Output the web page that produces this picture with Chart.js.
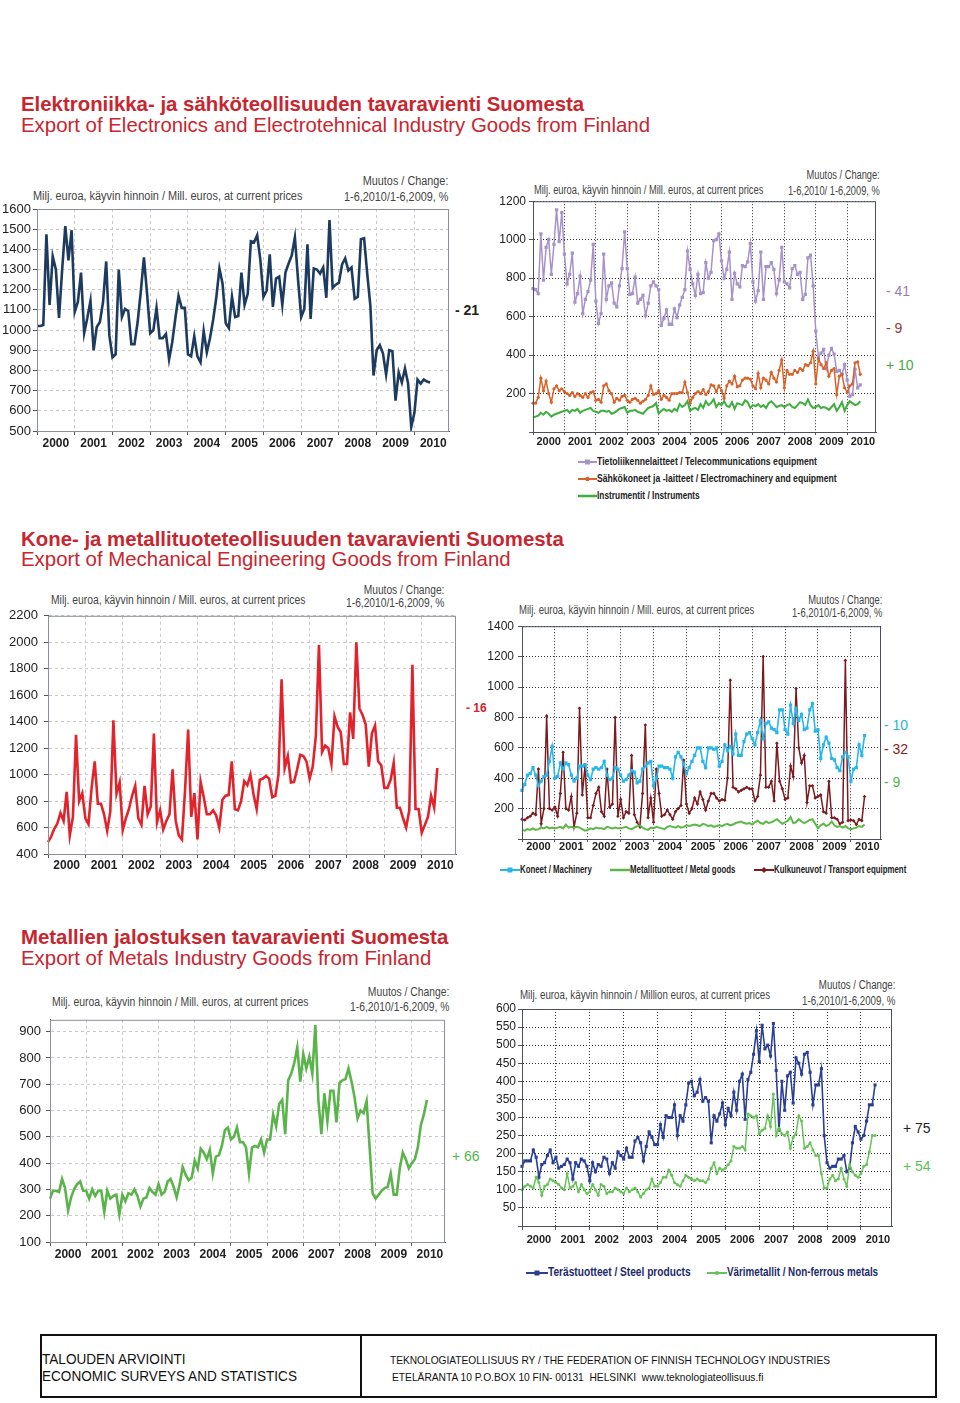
<!DOCTYPE html>
<html>
<head>
<meta charset="utf-8">
<script src="https://cdn.jsdelivr.net/npm/chart.js@4.4.1/dist/chart.umd.min.js"></script>
<style>
body { margin: 0; background: #fff; font-family: "Liberation Sans", Arial, sans-serif; }
#page { position: relative; width: 960px; height: 1403px; overflow: hidden; }
.t { position: absolute; white-space: nowrap; line-height: 14px; }
.title { position: absolute; left: 21px; color: #c8262f; font-size: 20.4px; line-height: 22px; white-space: nowrap; }
.unit { font-size: 12px; color: #444; transform-origin: left top; }
.chg { font-size: 12px; color: #444; text-align: right; transform-origin: right top; }
.leg { font-weight: bold; color: #222; }
.leg svg { vertical-align: middle; }
.leg span { display: inline-block; transform-origin: left center; }
[data-w] { display: inline-block; }
canvas { position: absolute; }
#foot { position: absolute; left: 40px; top: 1334px; width: 893px; height: 60px; border: 2px solid #111; }
#foot .div { position: absolute; left: 318px; top: 0; width: 2px; height: 60px; background: #111; }
#foot .t { transform-origin: left top; }
</style>
</head>
<body>
<div id="page">

<div class="title" style="top:93px;font-weight:bold">Elektroniikka- ja sähköteollisuuden tavaravienti Suomesta</div>
<div class="title" style="top:114px">Export of Electronics and Electrotehnical Industry Goods from Finland</div>
<div class="title" style="top:528px;font-weight:bold">Kone- ja metallituoteteollisuuden tavaravienti Suomesta</div>
<div class="title" style="top:548px">Export of Mechanical Engineering Goods from Finland</div>
<div class="title" style="top:926px;font-weight:bold">Metallien jalostuksen tavaravienti Suomesta</div>
<div class="title" style="top:947px">Export of Metals Industry Goods from Finland</div>

<!-- chart 1 texts -->
<div class="t unit" data-w="269" style="left:33px;top:189px">Milj. euroa, käyvin hinnoin / Mill. euros, at current prices</div>
<div class="t chg" data-w="104" style="right:512px;top:173px;line-height:16px">Muutos / Change:<br>1-6,2010/1-6,2009, %</div>
<div class="t" style="left:455px;top:303px;font-size:14px;font-weight:bold;color:#222">- 21</div>

<!-- chart 2 texts -->
<div class="t unit" data-w="229" style="left:534px;top:183px">Milj. euroa, käyvin hinnoin / Mill. euros, at current prices</div>
<div class="t chg" data-w="92" style="right:80px;top:167px;line-height:16px">Muutos / Change:<br>1-6,2010/ 1-6,2009, %</div>
<div class="t" style="left:886px;top:284px;font-size:14px;color:#9b7fa6">- 41</div>
<div class="t" style="left:886px;top:321px;font-size:14px;color:#8c3b3b">- 9</div>
<div class="t" style="left:886px;top:358px;font-size:14px;color:#3cab3c">+ 10</div>
<div class="t leg" style="left:578px;top:454px;font-size:11px">
<svg width="19" height="8"><line x1="0" y1="4" x2="19" y2="4" stroke="#a593c9" stroke-width="2"/><rect x="7" y="1.5" width="5" height="5" fill="#a593c9"/></svg><span data-w="220">Tietoliikennelaitteet / Telecommunications equipment</span></div>
<div class="t leg" style="left:578px;top:471px;font-size:11px">
<svg width="19" height="8"><line x1="0" y1="4" x2="19" y2="4" stroke="#d9612a" stroke-width="2"/><circle cx="9.5" cy="4" r="2.2" fill="#d9612a"/></svg><span data-w="240">Sähkökoneet ja -laitteet / Electromachinery and equipment</span></div>
<div class="t leg" style="left:578px;top:488px;font-size:11px">
<svg width="19" height="8"><line x1="0" y1="4" x2="19" y2="4" stroke="#3eaf3e" stroke-width="2.5"/></svg><span data-w="103">Instrumentit / Instruments</span></div>

<!-- chart 3 texts -->
<div class="t unit" data-w="254" style="left:51px;top:593px">Milj. euroa, käyvin hinnoin / Mill. euros, at current prices</div>
<div class="t chg" data-w="98" style="right:516px;top:584px;line-height:13px">Muutos / Change:<br>1-6,2010/1-6,2009, %</div>
<div class="t" style="left:466px;top:701px;font-size:12px;font-weight:bold;color:#d0252c">- 16</div>

<!-- chart 4 texts -->
<div class="t unit" data-w="235" style="left:519px;top:603px">Milj. euroa, käyvin hinnoin / Mill. euros, at current prices</div>
<div class="t chg" data-w="90" style="right:78px;top:594px;line-height:13px">Muutos / Change:<br>1-6,2010/1-6,2009, %</div>
<div class="t" style="left:884px;top:718px;font-size:14px;color:#2bb3e0">- 10</div>
<div class="t" style="left:884px;top:742px;font-size:14px;color:#8a1c24">- 32</div>
<div class="t" style="left:884px;top:775px;font-size:14px;color:#4db848">- 9</div>
<div class="t leg" style="left:500px;top:863px;font-size:10px">
<svg width="20" height="8"><line x1="0" y1="4" x2="20" y2="4" stroke="#29b6e8" stroke-width="2"/><rect x="7.5" y="1.5" width="5" height="5" fill="#29b6e8"/></svg><span data-w="72">Koneet / Machinery</span></div>
<div class="t leg" style="left:610px;top:863px;font-size:10px">
<svg width="20" height="8"><line x1="0" y1="4" x2="20" y2="4" stroke="#5cb947" stroke-width="2.5"/></svg><span data-w="105">Metallituotteet / Metal goods</span></div>
<div class="t leg" style="left:754px;top:863px;font-size:10px">
<svg width="20" height="8"><line x1="0" y1="4" x2="20" y2="4" stroke="#7b1a1f" stroke-width="2"/><path d="M10 1 L13 4 L10 7 L7 4 Z" fill="#7b1a1f"/></svg><span data-w="132">Kulkuneuvot / Transport equipment</span></div>

<!-- chart 5 texts -->
<div class="t unit" data-w="256" style="left:52px;top:995px">Milj. euroa, käyvin hinnoin / Mill. euros, at current prices</div>
<div class="t chg" data-w="99" style="right:511px;top:985px;line-height:15px">Muutos / Change:<br>1-6,2010/1-6,2009, %</div>
<div class="t" style="left:452px;top:1149px;font-size:14px;color:#4db848">+ 66</div>

<!-- chart 6 texts -->
<div class="t unit" data-w="250" style="left:520px;top:988px">Milj. euroa, käyvin hinnoin / Million euros, at current prices</div>
<div class="t chg" data-w="93" style="right:65px;top:977px;line-height:16px">Muutos / Change:<br>1-6,2010/1-6,2009, %</div>
<div class="t" style="left:903px;top:1121px;font-size:14px;color:#222">+ 75</div>
<div class="t" style="left:903px;top:1159px;font-size:14px;color:#5cbf4f">+ 54</div>
<div class="t leg" style="left:526px;top:1265px;font-size:13px;color:#1d2a6b">
<svg width="22" height="8"><line x1="0" y1="4" x2="22" y2="4" stroke="#2b3f94" stroke-width="2"/><rect x="8.5" y="1.5" width="5" height="5" fill="#2b3f94"/></svg><span data-w="143">Terästuotteet / Steel products</span></div>
<div class="t leg" style="left:707px;top:1265px;font-size:13px;color:#1d2a6b">
<svg width="20" height="8"><line x1="0" y1="4" x2="20" y2="4" stroke="#68c25a" stroke-width="2"/><circle cx="10" cy="4" r="2" fill="#68c25a"/></svg><span data-w="151">Värimetallit / Non-ferrous metals</span></div>

<canvas id="c1" width="452" height="254" style="left:0;top:199px"></canvas>
<canvas id="c2" width="400" height="261" style="left:480px;top:191px"></canvas>
<canvas id="c3" width="459" height="274" style="left:0;top:602px"></canvas>
<canvas id="c4" width="405" height="244" style="left:480px;top:615px"></canvas>
<canvas id="c5" width="448" height="257" style="left:0;top:1007px"></canvas>
<canvas id="c6" width="416" height="247" style="left:480px;top:999px"></canvas>

<div id="foot">
  <div class="div"></div>
  <div class="t" data-w="255" style="left:0;top:15px;font-size:14px;line-height:17px;color:#111">TALOUDEN ARVIOINTI<br>ECONOMIC SURVEYS AND STATISTICS</div>
  <div class="t" data-w="440" style="left:348px;top:17px;font-size:11px;color:#111">TEKNOLOGIATEOLLISUUS RY / THE FEDERATION OF FINNISH TECHNOLOGY INDUSTRIES</div>
  <div class="t" data-w="371" style="left:350px;top:34px;font-size:11px;color:#111">ETELÄRANTA 10 P.O.BOX 10 FIN- 00131&nbsp; HELSINKI&nbsp; www.teknologiateollisuus.fi</div>
</div>

</div>
<script>
// monthly data, Jan 2000 - Jun 2010, one row per year
var years = ['2000', '2001', '2002', '2003', '2004', '2005', '2006', '2007', '2008', '2009', '2010'];

// Elektroniikka- ja sähköteollisuus yhteensä
var elecTotal = [
    1020, 1020, 1025, 1475, 1125, 1365, 1300, 1060, 1300, 1515, 1345, 1495,
    1090, 1140, 1285, 985, 1060, 1145, 900, 1015, 1040, 1140, 1340, 975,
    865, 880, 1300, 1065, 1105, 1095, 930, 930, 1040, 1190, 1360, 1180,
    985, 1000, 1110, 960, 960, 980, 855, 940, 1060, 1170, 1110, 1110,
    880, 870, 970, 870, 840, 995, 890, 960, 1050, 1160, 1305, 1230,
    1035, 1010, 1165, 1065, 1070, 1285, 1125, 1180, 1440, 1435, 1470, 1350,
    1165, 1195, 1375, 1115, 1255, 1265, 1125, 1285, 1330, 1370, 1460, 1250,
    1065, 1105, 1425, 1055, 1305, 1300, 1280, 1310, 1160, 1545, 1210, 1225,
    1235, 1325, 1355, 1295, 1310, 1155, 1165, 1450, 1455, 1280, 1120, 775,
    900, 925, 885, 780, 900, 895, 650, 790, 740, 810, 735, 520,
    590, 755, 735, 755, 745, 740
];
var telecom = [
    745, 740, 720, 1030, 790, 960, 1000, 820, 975, 1155, 990, 1140,
    925, 770, 820, 930, 675, 720, 810, 615, 690, 730, 790, 975,
    680, 565, 615, 925, 690, 760, 775, 670, 650, 760, 850, 1040,
    850, 715, 720, 805, 670, 690, 710, 605, 670, 760, 780, 760,
    740, 555, 590, 635, 560, 560, 640, 595, 660, 700, 740, 940,
    845, 770, 710, 820, 720, 725, 880, 800, 830, 995, 1000, 1030,
    890, 800, 845, 935, 690, 825, 770, 755, 865, 860, 885, 980,
    780, 680, 735, 935, 690, 860, 860, 880, 845, 720, 790, 960,
    780, 770, 750, 850, 865, 820, 830, 690, 715, 905, 920, 760,
    525, 390, 410, 430, 330, 400, 435, 405, 315, 320, 300, 350,
    270, 185, 195, 325, 230, 245
];
var electroMach = [
    150, 150, 180, 280, 215, 265, 200, 155, 225, 240, 215, 225,
    210, 200, 190, 205, 185, 200, 190, 180, 200, 180, 205, 210,
    165, 170, 155, 240, 250, 215, 200, 155, 175, 165, 185, 190,
    165, 155, 170, 175, 165, 150, 160, 170, 190, 240, 195, 200,
    215, 170, 190, 180, 165, 200, 200, 200, 205, 205, 260, 205,
    150, 180, 200, 210, 200, 220, 195, 210, 245, 240, 210, 240,
    215, 175, 240, 265, 250, 290, 235, 240, 270, 280, 280, 275,
    240, 225, 305, 230, 280, 270, 250, 310, 280, 260, 320, 375,
    230, 320, 300, 300, 320, 310, 330, 320, 350, 345, 360, 420,
    250, 380, 350, 330, 360, 290, 320, 330, 195, 290, 300, 230,
    205, 240, 250, 360, 365, 300
];
var instruments = [
    75, 80, 85, 100, 90, 105, 95, 80, 90, 95, 100, 105,
    110, 115, 100, 115, 110, 120, 100, 110, 115, 120, 125, 110,
    105, 100, 110, 110, 105, 110, 95, 100, 110, 120, 125, 130,
    100, 110, 110, 115, 105, 100, 95, 110, 125, 130, 135, 150,
    95, 110, 120, 110, 115, 105, 120, 110, 145, 130, 140, 160,
    110, 120, 125, 115, 145, 125, 160, 140, 150, 170, 130, 150,
    140, 160, 135, 130, 155, 120, 150, 145, 140, 165, 155, 125,
    140, 135, 145, 130, 140, 125, 150, 160, 145, 130, 135, 140,
    130, 140, 145, 130, 125, 140, 155, 150, 140, 170, 140, 125,
    130, 140, 125, 130, 125, 115, 130, 145, 110, 130, 155, 110,
    140, 160, 150, 140, 145, 160
];

// Kone- ja metallituoteteollisuus
var mechTotal = [
    490, 530, 590, 630, 710, 650, 870, 540, 680, 1300, 800, 860,
    670, 625, 900, 1100, 780, 780, 700, 575, 720, 1410, 855, 940,
    580, 670, 740, 840, 915, 670, 620, 915, 700, 760, 1310, 640,
    730, 585, 650, 700, 1040, 650, 540, 510, 880, 1340, 680, 860,
    510, 945, 830, 700, 700, 730, 690, 600, 810, 840, 845, 1100,
    740, 730, 800, 950, 920, 1000, 850, 740, 960, 970, 990, 970,
    830, 840, 1000, 1720, 1050, 1140, 940, 945, 1040, 1150, 1140, 1100,
    970, 1060, 1290, 1980, 1170, 1220, 1200, 1080, 1440, 1360, 1320, 1080,
    1080, 1470, 1270, 2000, 1500, 1450, 1380, 1060, 1310, 1370, 1100, 1070,
    900, 900, 960, 1090, 750, 750, 670, 600, 730, 1830, 740, 740,
    560, 620, 680, 840, 750, 1050
];
var machinery = [
    320, 360, 420, 430, 470, 420, 350, 380, 410, 420, 510, 610,
    400, 410, 500, 460, 500, 490, 420, 380, 400, 480, 480, 490,
    420, 390, 460, 470, 460, 470, 510, 420, 390, 400, 470, 460,
    420, 380, 390, 420, 450, 440, 370, 380, 460, 480, 500, 510,
    350, 400, 480, 480, 470, 470, 460, 400, 540, 570, 540, 490,
    430, 470, 510, 550, 600, 600, 510, 470, 600, 600, 590, 600,
    480, 510, 620, 580, 610, 560, 690, 550, 550, 640, 690, 700,
    660, 620, 700, 780, 660, 760, 770, 730, 720, 700, 850, 850,
    720, 690, 880, 760, 860, 780, 820, 720, 730, 850, 890, 710,
    720, 530, 620, 670, 630, 530, 520, 470, 450, 540, 570, 540,
    380, 460, 470, 620, 550, 680
];
var metalGoods = [
    60, 55, 65, 60, 70, 60, 65, 75, 70, 80, 70, 75,
    70, 75, 80, 70, 95, 75, 80, 75, 80, 75, 65, 55,
    60, 70, 65, 75, 70, 70, 65, 80, 75, 70, 75, 70,
    70, 75, 80, 70, 65, 75, 85, 90, 75, 65, 60, 75,
    70, 80, 75, 70, 65, 80, 85, 80, 75, 85, 75, 80,
    90, 85, 90, 95, 90, 85, 100, 95, 85, 90, 80, 85,
    90, 85, 95, 100, 90, 95, 105, 110, 115, 105, 100, 105,
    95, 110, 120, 105, 100, 115, 105, 110, 120, 130, 115, 100,
    110, 120, 145, 105, 110, 130, 115, 105, 115, 125, 130, 100,
    70, 90, 100, 85, 95, 115, 90, 80, 85, 75, 85, 70,
    65, 70, 75, 85, 80, 95
];
var transport = [
    130, 125, 140, 150, 170, 160, 460, 100, 200, 810, 200, 190,
    210, 150, 300, 570, 200, 190, 280, 80, 170, 860, 290, 480,
    140, 140, 220, 300, 340, 180, 150, 460, 210, 230, 800, 150,
    260, 140, 180, 170, 550, 160, 110, 80, 300, 750, 140, 270,
    110, 460, 300, 150, 160, 190, 160, 130, 180, 200, 220, 520,
    230, 170, 200, 270, 230, 310, 260, 190, 250, 300, 300, 270,
    250, 260, 255, 400, 1045, 340, 330, 310, 320, 330, 340, 330,
    330, 250, 280, 420, 1200, 340, 340, 380, 250, 630, 380, 330,
    260, 270, 480, 410, 990, 600, 500, 550, 240, 350, 350, 270,
    280, 290, 180, 170, 380, 140, 140, 130, 100, 110, 1175, 120,
    125, 120, 95, 130, 120, 280
];

// Metallien jalostus
var metalsTotal = [
    265, 295, 295, 290, 340, 305, 220, 270, 300, 320, 330, 295,
    295, 265, 300, 275, 295, 295, 215, 295, 265, 275, 280, 205,
    280, 255, 285, 280, 300, 275, 235, 265, 270, 305, 290, 280,
    320, 280, 290, 330, 340, 310, 270, 320, 385, 355, 335, 345,
    410, 380, 455, 440, 415, 450, 360, 425, 430, 465, 525, 535,
    490, 500, 535, 480, 480, 460, 360, 460, 465, 460, 490, 440,
    490, 490, 585, 540, 625, 640, 510, 715, 740, 780, 840, 710,
    815, 760, 805, 740, 925, 640, 510, 665, 560, 675, 675, 555,
    705, 715, 720, 760, 710, 650, 570, 600, 590, 635, 460, 285,
    265, 280, 295, 305, 310, 360, 280, 280, 380, 440, 415, 380,
    400, 415, 460, 545, 585, 640
];
var steel = [
    165, 180, 180, 180, 210, 190, 135, 170, 175, 195, 210, 175,
    190, 160, 165, 170, 185, 175, 130, 175, 165, 185, 180, 165,
    125, 175, 150, 170, 165, 190, 185, 145, 175, 160, 205, 195,
    185, 215, 190, 190, 235, 245, 230, 180, 220, 260, 245, 225,
    225, 280, 245, 305, 300, 300, 335, 250, 305, 290, 335, 395,
    400, 360, 370, 405, 345, 355, 345, 230, 305, 290, 310, 340,
    280, 325, 305, 370, 320, 400, 420, 295, 405, 425, 475, 540,
    455, 555, 490, 500, 470, 560, 430, 265, 400, 320, 415, 425,
    340, 465, 450, 420, 475, 480, 425, 335, 390, 390, 435, 250,
    175, 160, 165, 165, 185, 185, 195, 150, 160, 230, 275, 260,
    240, 250, 290, 335, 335, 390
];
var nonFerrous = [
    100, 110, 115, 110, 105, 135, 120, 85, 110, 115, 130, 125,
    120, 115, 105, 100, 145, 105, 110, 120, 95, 115, 100, 90,
    95, 115, 100, 85, 115, 110, 90, 95, 95, 105, 100, 95,
    90, 105, 95, 100, 105, 95, 80, 90, 100, 105, 130, 110,
    110, 120, 135, 135, 155, 140, 120, 115, 110, 125, 140, 135,
    130, 125, 130, 125, 125, 120, 130, 160, 175, 145, 160, 155,
    160, 170, 180, 220, 215, 215, 220, 210, 310, 305, 300, 305,
    255, 265, 270, 305, 275, 365, 250, 270, 255, 250, 260, 215,
    245, 255, 305, 290, 215, 220, 230, 210, 195, 195, 145, 105,
    105, 130, 140, 125, 130, 160, 130, 110, 170, 150, 140, 135,
    145, 165, 170, 205, 250, 250
];

// 12 monthly slots per year, year label in the middle of each year
var slots = [];
years.forEach(function (y) {
    for (var m = 0; m < 12; m++) slots.push(m === 6 ? y : '');
});

// squeeze texts to the narrow widths of the original print
function fit() {
    document.querySelectorAll('[data-w]').forEach(function (el) {
        el.style.transform = 'scaleX(' + (el.dataset.w / el.offsetWidth) + ')';
    });
}
fit();

var font = '"Liberation Sans", Arial, sans-serif';
var light = { grid: '#c9c9c9', dash: [3, 3], frame: '#8a8f99', ySize: 13, xSize: 12 };
var dark = { grid: '#333', dash: [1, 2], frame: '#4a5060', ySize: 12, xSize: 11 };

const frame = {
    id: 'frame',
    afterDraw(chart, args, opts) {
        const a = chart.chartArea, ctx = chart.ctx;
        ctx.save();
        ctx.strokeStyle = opts.color;
        ctx.lineWidth = 1;
        ctx.strokeRect(a.left + 0.5, a.top + 0.5, a.right - a.left - 1, a.bottom - a.top);
        ctx.restore();
    }
};

function series(data, color, width, style, radius) {
    return {
        data: data,
        borderColor: color,
        backgroundColor: color,
        borderWidth: width,
        pointStyle: style || 'circle',
        pointRadius: radius || 0,
        pointBorderWidth: 0,
        tension: 0,
        fill: false
    };
}

function lineChart(id, datasets, look, o) {
    return new Chart(document.getElementById(id), {
        type: 'line',
        data: { labels: slots, datasets: datasets },
        options: {
            responsive: false,
            animation: false,
            devicePixelRatio: 1,
            layout: { padding: { top: 10, right: 3, left: 0, bottom: 0 } },
            plugins: {
                legend: { display: false },
                tooltip: { enabled: false },
                frame: { color: look.frame }
            },
            scales: {
                x: {
                    grid: {
                        color: c => c.index % 12 === 0 ? look.grid : 'rgba(0,0,0,0)',
                        tickColor: c => c.index % 12 === 0 ? '#555' : 'rgba(0,0,0,0)',
                        tickLength: o.xTick
                    },
                    border: { color: '#555', dash: look.dash },
                    ticks: {
                        autoSkip: false, maxRotation: 0, padding: o.xPad,
                        color: '#222', font: { family: font, size: look.xSize, weight: 'bold' }
                    },
                    afterFit: s => { s.height = o.xH; }
                },
                y: {
                    min: o.min, max: o.max,
                    grid: { color: look.grid, tickColor: '#555', tickLength: 4 },
                    border: { color: '#555', dash: look.dash },
                    ticks: {
                        stepSize: o.step, padding: o.yPad, autoSkip: false,
                        color: '#222', font: { family: font, size: look.ySize },
                        callback: v => v === 0 ? '' : v
                    },
                    afterBuildTicks: s => {
                        var t = [];
                        for (var v = o.min; v <= o.max; v += o.step) t.push({ value: v });
                        s.ticks = t;
                    },
                    afterFit: s => { s.width = o.yW; }
                }
            }
        },
        plugins: [frame]
    });
}

lineChart('c1', [series(elecTotal, '#1d3a5f', 2.6)], light,
    { min: 500, max: 1600, step: 100, yW: 37, yPad: 2, xH: 22, xTick: 4, xPad: 1 });

lineChart('c2', [
    series(instruments, '#3eaf3e', 2),
    series(electroMach, '#d9612a', 1.5, 'circle', 1.6),
    series(telecom, '#a593c9', 1.5, 'rect', 2.3)
], dark, { min: 0, max: 1200, step: 200, yW: 53, yPad: 3, xH: 20, xTick: 3, xPad: 0 });

lineChart('c3', [series(mechTotal, '#e3232c', 2.6)], light,
    { min: 400, max: 2200, step: 200, yW: 48, yPad: 6, xH: 22, xTick: 4, xPad: 0 });

lineChart('c4', [
    series(metalGoods, '#5cb947', 2),
    series(machinery, '#29b6e8', 1.6, 'rect', 2.3),
    series(transport, '#7b1a1f', 1.5, 'rectRot', 1.8)
], dark, { min: 0, max: 1400, step: 200, yW: 42, yPad: 4, xH: 20, xTick: 3, xPad: -2 });

lineChart('c5', [series(metalsTotal, '#5bb34b', 2.6)], light,
    { min: 100, max: 945, step: 100, yW: 50, yPad: 5, xH: 22, xTick: 4, xPad: 1 });

lineChart('c6', [
    series(nonFerrous, '#68c25a', 1.5, 'circle', 1.5),
    series(steel, '#2b3f94', 1.6, 'rect', 2.2)
], dark, { min: 0, max: 600, step: 50, yW: 42, yPad: 2, xH: 20, xTick: 4, xPad: 3 });
</script>
</body>
</html>
